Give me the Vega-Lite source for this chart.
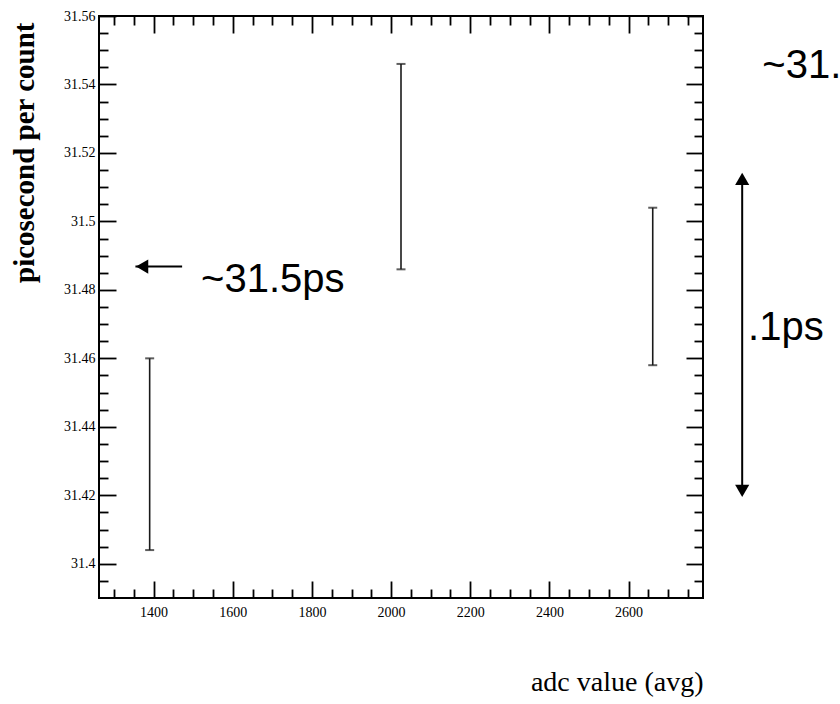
{
  "$schema": "https://vega.github.io/schema/vega-lite/v6.json",
  "width": 604,
  "height": 582,
  "autosize": {"type": "none"},
  "padding": {"left": 99, "top": 16, "right": 137, "bottom": 106},
  "background": "white",
  "config": {
    "view": {"stroke": "black", "strokeWidth": 2},
    "axis": {"domain": false, "grid": false, "tickColor": "black", "tickWidth": 1.8, "labelColor": "black", "labelFont": "Liberation Serif", "labelFontSize": 14, "titleColor": "black"}
  },
  "datasets": {
    "bars": [
      {"adc": 1390, "lo": 31.404, "hi": 31.46},
      {"adc": 2025, "lo": 31.486, "hi": 31.546},
      {"adc": 2661, "lo": 31.458, "hi": 31.504}
    ],
    "arrows": [
      {"x": 1354, "x2": 1472, "y": 31.4868, "y2": 31.4868},
      {"x": 2887, "x2": 2887, "y": 31.5124, "y2": 31.4213}
    ],
    "heads": [
      {"x": 1371, "y": 31.4868, "shape": "triangle-left"},
      {"x": 2887, "y": 31.5124, "shape": "triangle-up"},
      {"x": 2887, "y": 31.4213, "shape": "triangle-down"}
    ],
    "notes": [
      {"x": 1520, "y": 31.4795, "label": "~31.5ps"},
      {"x": 2902, "y": 31.4654, "label": ".1ps"},
      {"x": 2938, "y": 31.5418, "label": "~31."}
    ]
  },
  "resolve": {"axis": {"x": "independent", "y": "independent"}},
  "layer": [
    {
      "data": {"name": "bars"},
      "mark": {"type": "rule", "color": "#1a1a1a", "strokeWidth": 1.6},
      "encoding": {
        "x": {"field": "adc", "type": "quantitative",
          "scale": {"domain": [1262, 2788], "nice": false, "zero": false},
          "axis": {"orient": "bottom", "values": [1400, 1600, 1800, 2000, 2200, 2400, 2600], "tickSize": -17, "labelPadding": 24, "labelExpr": "datum.value + ''",
            "title": "adc value (avg)", "titleFont": "Liberation Serif", "titleFontSize": 28, "titleFontWeight": "normal", "titleX": 604, "titleY": 92, "titleAlign": "right", "titleBaseline": "alphabetic", "titleAngle": 0}},
        "y": {"field": "lo", "type": "quantitative",
          "scale": {"domain": [31.39, 31.56], "nice": false, "zero": false},
          "axis": {"orient": "left", "values": [31.4, 31.42, 31.44, 31.46, 31.48, 31.5, 31.52, 31.54, 31.56], "tickSize": -17, "labelPadding": 21, "labelExpr": "datum.value + ''",
            "title": "picosecond per count", "titleFont": "Liberation Serif", "titleFontSize": 29, "titleFontWeight": "bold", "titleX": -66, "titleY": 6, "titleAngle": -90, "titleAlign": "right", "titleBaseline": "alphabetic"}},
        "y2": {"field": "hi"}
      }
    },
    {
      "data": {"name": "bars"},
      "mark": {"type": "tick", "orient": "horizontal", "color": "#1a1a1a", "size": 9, "thickness": 2},
      "encoding": {
        "x": {"field": "adc", "type": "quantitative",
          "scale": {"domain": [1262, 2788], "nice": false, "zero": false},
          "axis": {"orient": "bottom", "values": [1300, 1350, 1450, 1500, 1550, 1650, 1700, 1750, 1850, 1900, 1950, 2050, 2100, 2150, 2250, 2300, 2350, 2450, 2500, 2550, 2650, 2700, 2750], "tickSize": -9, "labels": false, "title": null}},
        "y": {"field": "hi", "type": "quantitative",
          "scale": {"domain": [31.39, 31.56], "nice": false, "zero": false},
          "axis": {"orient": "left", "values": [31.395, 31.405, 31.41, 31.415, 31.425, 31.43, 31.435, 31.445, 31.45, 31.455, 31.465, 31.47, 31.475, 31.485, 31.49, 31.495, 31.505, 31.51, 31.515, 31.525, 31.53, 31.535, 31.545, 31.55, 31.555], "tickSize": -9, "labels": false, "title": null}}
      }
    },
    {
      "data": {"name": "bars"},
      "mark": {"type": "tick", "orient": "horizontal", "color": "#1a1a1a", "size": 9, "thickness": 2},
      "encoding": {
        "x": {"field": "adc", "type": "quantitative",
          "scale": {"domain": [1262, 2788], "nice": false, "zero": false},
          "axis": {"orient": "top", "values": [1400, 1600, 1800, 2000, 2200, 2400, 2600], "tickSize": -17, "labels": false, "title": null}},
        "y": {"field": "lo", "type": "quantitative",
          "scale": {"domain": [31.39, 31.56], "nice": false, "zero": false},
          "axis": {"orient": "right", "values": [31.4, 31.42, 31.44, 31.46, 31.48, 31.5, 31.52, 31.54, 31.56], "tickSize": -17, "labels": false, "title": null}}
      }
    },
    {
      "data": {"name": "arrows"},
      "mark": {"type": "rule", "color": "black", "strokeWidth": 2},
      "encoding": {
        "x": {"field": "x", "type": "quantitative",
          "scale": {"domain": [1262, 2788], "nice": false, "zero": false},
          "axis": {"orient": "top", "values": [1300, 1350, 1450, 1500, 1550, 1650, 1700, 1750, 1850, 1900, 1950, 2050, 2100, 2150, 2250, 2300, 2350, 2450, 2500, 2550, 2650, 2700, 2750], "tickSize": -9, "labels": false, "title": null}},
        "x2": {"field": "x2"},
        "y": {"field": "y", "type": "quantitative",
          "scale": {"domain": [31.39, 31.56], "nice": false, "zero": false},
          "axis": {"orient": "right", "values": [31.395, 31.405, 31.41, 31.415, 31.425, 31.43, 31.435, 31.445, 31.45, 31.455, 31.465, 31.47, 31.475, 31.485, 31.49, 31.495, 31.505, 31.51, 31.515, 31.525, 31.53, 31.535, 31.545, 31.55, 31.555], "tickSize": -9, "labels": false, "title": null}},
        "y2": {"field": "y2"}
      }
    },
    {
      "data": {"name": "heads"},
      "mark": {"type": "point", "filled": true, "color": "black", "opacity": 1, "size": 200},
      "encoding": {
        "x": {"field": "x", "type": "quantitative", "scale": {"domain": [1262, 2788], "nice": false, "zero": false}, "axis": null},
        "y": {"field": "y", "type": "quantitative", "scale": {"domain": [31.39, 31.56], "nice": false, "zero": false}, "axis": null},
        "shape": {"field": "shape", "type": "nominal", "scale": null, "legend": null}
      }
    },
    {
      "data": {"name": "notes"},
      "mark": {"type": "text", "font": "Liberation Sans", "fontSize": 40, "align": "left", "baseline": "alphabetic", "color": "black"},
      "encoding": {
        "x": {"field": "x", "type": "quantitative", "scale": {"domain": [1262, 2788], "nice": false, "zero": false}, "axis": null},
        "y": {"field": "y", "type": "quantitative", "scale": {"domain": [31.39, 31.56], "nice": false, "zero": false}, "axis": null},
        "text": {"field": "label"}
      }
    }
  ]
}
